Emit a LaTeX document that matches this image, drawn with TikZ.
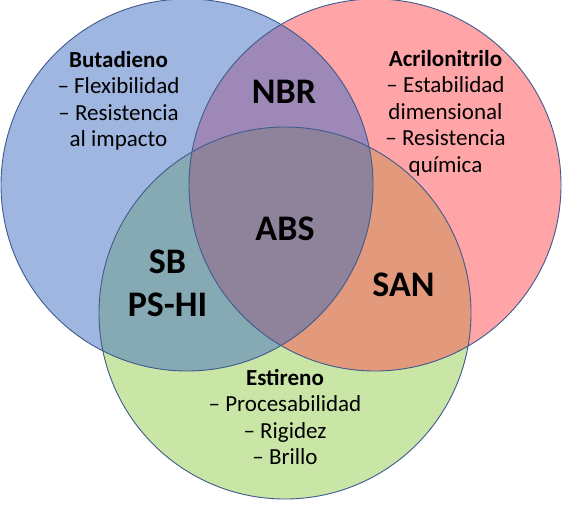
\documentclass[tikz,border=0pt]{standalone}
\usepackage{fontspec}
\setmainfont{Carlito}
\definecolor{cB}{HTML}{9FB7E0}
\definecolor{cR}{HTML}{FFA5A8}
\definecolor{cG}{HTML}{CAE6A7}
\definecolor{cBR}{HTML}{9D88B7}
\definecolor{cBG}{HTML}{86AAB3}
\definecolor{cRG}{HTML}{E39A7C}
\definecolor{cBRG}{HTML}{8F839B}
\definecolor{cLine}{HTML}{3E5A8E}
\tikzset{
  small/.style={inner sep=0pt, anchor=base, font=\fontsize{23}{26.6}\selectfont},
  big/.style={inner sep=0pt, anchor=base, font=\fontsize{36}{43}\selectfont\bfseries},
  ring/.style={draw=cLine, line width=0.9pt}
}
\begin{document}
\begin{tikzpicture}[x=1pt,y=-1pt]
\useasboundingbox (0,0) rectangle (564,509);
\fill[white] (0,0) rectangle (564,509);
\def\cB{(187,185) circle[radius=186]}
\def\cR{(375,185) circle[radius=186]}
\def\cG{(285,313) circle[radius=186]}
% single fills
\fill[cB] \cB;
\fill[cR] \cR;
\fill[cG] \cG;
% pairwise
\begin{scope}\clip \cB; \fill[cBR] \cR; \end{scope}
\begin{scope}\clip \cB; \fill[cBG] \cG; \end{scope}
\begin{scope}\clip \cR; \fill[cRG] \cG; \end{scope}
\begin{scope}\clip \cB; \clip \cR; \fill[cBRG] \cG; \end{scope}
% outlines
\draw[ring] \cB;
\draw[ring] \cR;
\draw[ring] \cG;
% texts
\node[small] (but) at (118.5,67) {\begin{tabular}[t]{@{}c@{}}\textbf{Butadieno}\\-- Flexibilidad\\-- Resistencia\\al impacto\end{tabular}};
\node[small] (acr) at (445.5,66) {\begin{tabular}[t]{@{}c@{}}\textbf{Acrilonitrilo}\\-- Estabilidad\\dimensional\\-- Resistencia\\química\end{tabular}};
\node[small] (est) at (285,385) {\begin{tabular}[t]{@{}c@{}}\textbf{Estireno}\\-- Procesabilidad\\-- Rigidez\\-- Brillo\end{tabular}};
\node[big] (nbr) at (284,103) {NBR};
\node[big] (abs) at (285,240) {ABS};
\node[big] (sb) at (167.5,273) {\begin{tabular}[t]{@{}c@{}}SB\\PS-HI\end{tabular}};
\node[big] (san) at (403.5,296) {SAN};
\end{tikzpicture}
\end{document}
